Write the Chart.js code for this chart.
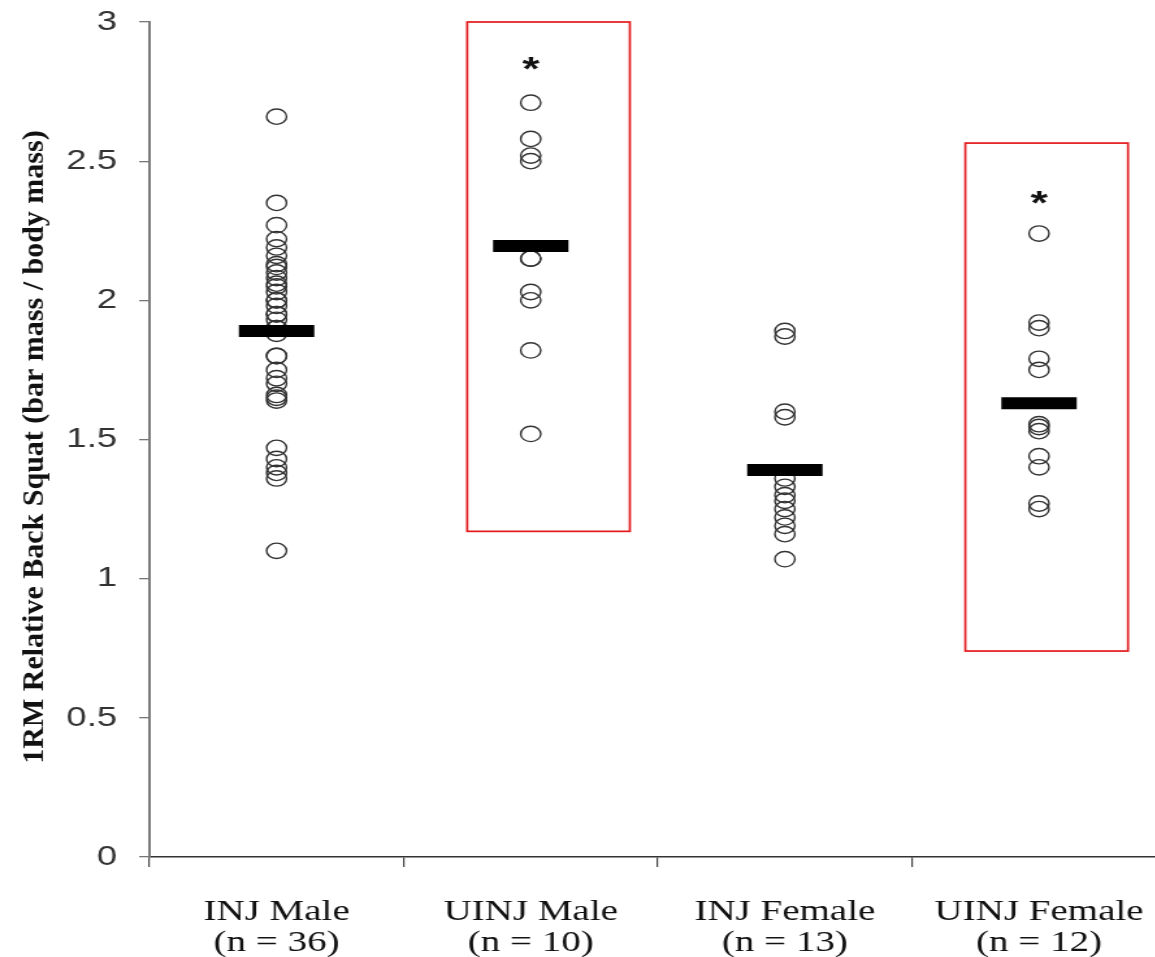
<!DOCTYPE html>
<html>
<head>
<meta charset="utf-8">
<script src="https://cdn.jsdelivr.net/npm/chart.js@4/dist/chart.umd.min.js"></script>
<style>
  html, body { margin: 0; padding: 0; background: #fff; overflow: hidden; }
  #wrap { position: absolute; left: 0; top: 0; width: 897px; height: 957px; transform: scaleX(1.3); transform-origin: 0 0; }
</style>
</head>
<body>
<div id="wrap"><canvas id="c" width="897" height="957"></canvas></div>
<script>
// ---- data ----
const categoryNames = ['INJ Male', 'UINJ Male', 'INJ Female', 'UINJ Female'];
const groupSizes = [36, 10, 13, 12];
const injMale = [2.66, 2.35, 2.27, 2.22, 2.19, 2.16, 2.13, 2.12, 2.10, 2.08, 2.06, 2.05, 2.03,
                 2.00, 2.00, 1.98, 1.95, 1.95, 1.93, 1.90, 1.90, 1.88,
                 1.80, 1.80, 1.75, 1.72, 1.70, 1.66, 1.65, 1.64,
                 1.47, 1.43, 1.40, 1.38, 1.36, 1.10];
const uinjMale = [2.71, 2.58, 2.52, 2.50, 2.15, 2.15, 2.03, 2.00, 1.82, 1.52];
const injFemale = [1.89, 1.87, 1.60, 1.58, 1.36, 1.33, 1.30, 1.28, 1.25, 1.22, 1.19, 1.16, 1.07];
const uinjFemale = [2.24, 1.92, 1.90, 1.79, 1.75, 1.555, 1.545, 1.53, 1.44, 1.40, 1.27, 1.25];
const groupMeans = [1.89, 2.195, 1.39, 1.63];
const starCategories = ['UINJ Male', 'UINJ Female'];
const starValues = [2.85, 2.37];
const boxLeft = [0.75, 2.71];     // category-index units
const boxRight = [1.39, 3.35];
const boxTop = [3.0, 2.565];
const boxBottom = [1.17, 0.74];
const yTitle = '1RM Relative Back Squat (bar mass / body mass)';
const yTicks = [0, 0.5, 1, 1.5, 2, 2.5, 3];

const groups = [injMale, uinjMale, injFemale, uinjFemale];
const pointData = [];
groups.forEach((vals, i) => vals.forEach(v => pointData.push({ x: categoryNames[i], y: v })));
const meanData = groupMeans.map((v, i) => ({ x: categoryNames[i], y: v }));

const STRETCH = 1.3;

const overlayPlugin = {
  id: 'overlay',
  afterDatasetsDraw(chart) {
    const ctx = chart.ctx;
    const xs = chart.scales.x, ys = chart.scales.y;
    ctx.save();
    // red boxes
    ctx.strokeStyle = '#e3191b';
    ctx.lineWidth = 1.7;
    for (let i = 0; i < boxLeft.length; i++) {
      const l = xs.getPixelForValue(boxLeft[i]);
      const r = xs.getPixelForValue(boxRight[i]);
      const t = ys.getPixelForValue(boxTop[i]);
      const b = ys.getPixelForValue(boxBottom[i]);
      ctx.strokeRect(l, t, r - l, b - t);
    }
    // asterisks
    ctx.fillStyle = '#111';
    ctx.font = 'bold 34px "Liberation Sans", Arial, sans-serif';
    ctx.textAlign = 'center';
    ctx.textBaseline = 'alphabetic';
    const m = ctx.measureText('*');
    const off = (m.actualBoundingBoxAscent - m.actualBoundingBoxDescent) / 2;
    for (let i = 0; i < starCategories.length; i++) {
      const x = xs.getPixelForValue(categoryNames.indexOf(starCategories[i]));
      const y = ys.getPixelForValue(starValues[i]);
      ctx.fillText('*', x, y + off);
    }
    ctx.restore();
  },
  afterDraw(chart) {
    const ctx = chart.ctx;
    ctx.save();
    ctx.translate(27, 447);
    ctx.scale(1 / STRETCH, 1);
    ctx.rotate(-Math.PI / 2);
    ctx.fillStyle = '#111';
    ctx.font = 'bold 30px "Liberation Serif", "Times New Roman", serif';
    ctx.textAlign = 'center';
    ctx.textBaseline = 'middle';
    ctx.fillText(yTitle, 0, 0);
    ctx.restore();
  }
};

new Chart(document.getElementById('c'), {
  type: 'line',
  data: {
    labels: categoryNames,
    datasets: [
      {
        label: 'Mean',
        data: meanData,
        showLine: false,
        pointStyle: 'line',
        pointRadius: 29,
        pointHoverRadius: 29,
        pointBorderWidth: 12,
        pointHoverBorderWidth: 12,
        borderColor: '#000',
        backgroundColor: '#000',
        order: 0,
        clip: false
      },
      {
        label: 'Individual',
        data: pointData,
        showLine: false,
        pointStyle: 'circle',
        pointRadius: 7.7,
        pointHoverRadius: 7.7,
        pointBorderWidth: 1.4,
        pointHoverBorderWidth: 1.4,
        borderColor: '#333',
        backgroundColor: 'rgba(255,255,255,0)',
        order: 1,
        clip: false
      }
    ]
  },
  options: {
    responsive: false,
    animation: false,
    devicePixelRatio: 1,
    layout: { autoPadding: false, padding: { top: 22, left: 0, right: 0, bottom: 0 } },
    plugins: { legend: { display: false }, tooltip: { enabled: false } },
    events: [],
    scales: {
      x: {
        type: 'category',
        offset: true,
        grid: { offset: true, drawOnChartArea: false, drawTicks: true, tickLength: 10, color: '#444', lineWidth: 1.2 },
        border: { display: true, color: '#333', width: 1.5 },
        ticks: {
          color: '#111',
          padding: 29,
          maxRotation: 0,
          autoSkip: false,
          font: { family: '"Liberation Serif", "Times New Roman", serif', size: 30, lineHeight: 1.05 },
          callback: (v, i) => [categoryNames[i], '(n = ' + groupSizes[i] + ')']
        },
        afterFit: s => { s.height = 100; s.paddingLeft = 0; s.paddingRight = 0; }
      },
      y: {
        min: 0,
        max: 3,
        afterBuildTicks: s => { s.ticks = yTicks.map(v => ({ value: v })); },
        grid: { drawOnChartArea: false, drawTicks: true, tickLength: 8, color: '#777', lineWidth: 1.3 },
        border: { display: true, color: '#7a7a7a', width: 2 },
        ticks: {
          color: '#333',
          padding: 17,
          font: { family: '"Liberation Sans", Arial, sans-serif', size: 28 },
          callback: v => String(v)
        },
        afterFit: s => { s.width = 115; s.paddingTop = 0; s.paddingBottom = 0; }
      }
    }
  },
  plugins: [overlayPlugin]
});
</script>
</body>
</html>
